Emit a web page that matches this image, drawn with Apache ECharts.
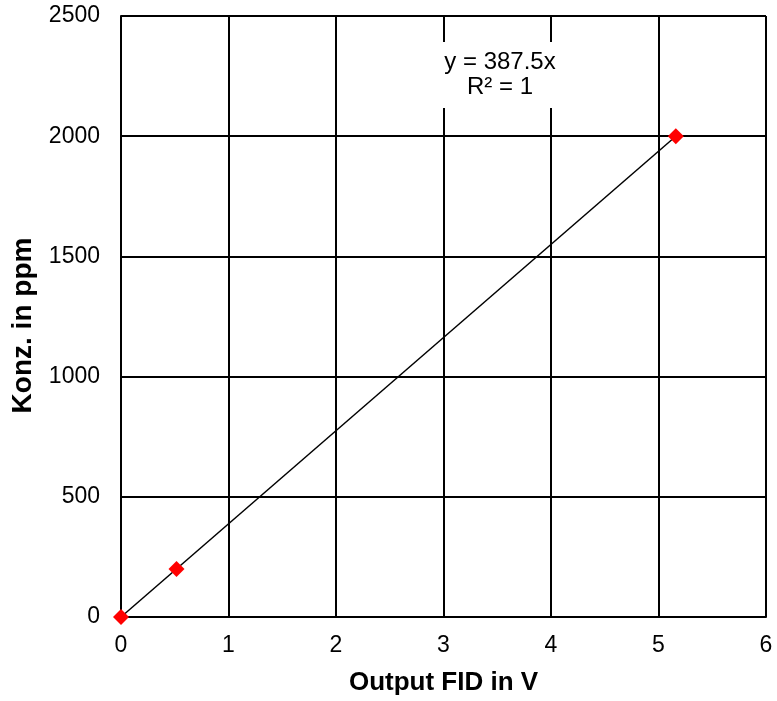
<!DOCTYPE html>
<html><head><meta charset="utf-8">
<script src="https://cdn.jsdelivr.net/npm/echarts@6/dist/echarts.min.js"></script>
<style>html,body{margin:0;padding:0;background:#fff}#c{width:777px;height:701px}</style>
</head><body><div id="c"></div>
<script>
const outputV = [0, 0.516, 5.161];
const konzPpm = [0, 200, 2000];
const slope = 387.5;
const rSquared = 1;
const xTicks = [0, 1, 2, 3, 4, 5, 6];
const yTicks = [0, 500, 1000, 1500, 2000, 2500];

const points = outputV.map((x, i) => [x, konzPpm[i]]);
const xMax = Math.max(...outputV);
const trend = [[0, 0], [xMax, slope * xMax]];

const chart = echarts.init(document.getElementById('c'));
const font = 'Liberation Sans, Arial, sans-serif';
chart.setOption({
  animation: false,
  grid: { left: 121, right: 11, top: 16, bottom: 84 },
  xAxis: {
    type: 'value', min: xTicks[0], max: xTicks[xTicks.length - 1], interval: 1,
    name: 'Output FID in V', nameLocation: 'middle', nameGap: 53,
    nameTextStyle: { fontFamily: font, fontWeight: 'bold', fontSize: 26, color: '#000' },
    axisLine: { show: true, lineStyle: { color: '#000', width: 2 } },
    axisTick: { show: false },
    axisLabel: { fontFamily: font, fontSize: 23, color: '#000', margin: 17, formatter: v => String(v) },
    splitLine: { show: true, lineStyle: { color: '#000', width: 2 } }
  },
  yAxis: {
    type: 'value', min: yTicks[0], max: yTicks[yTicks.length - 1], interval: 500,
    name: 'Konz. in ppm', nameLocation: 'middle', nameGap: 84,
    nameTextStyle: { fontFamily: font, fontWeight: 'bold', fontSize: 28, color: '#000', padding: [0, 18, 0, 0] },
    axisLine: { show: true, lineStyle: { color: '#000', width: 2 } },
    axisTick: { show: false },
    axisLabel: { fontFamily: font, fontSize: 23, color: '#000', margin: 21, formatter: v => String(v) },
    splitLine: { show: true, lineStyle: { color: '#000', width: 2 } }
  },
  graphic: [{
    type: 'rect', x: 440, y: 42, shape: { width: 120, height: 66 },
    style: { fill: '#fff' }, z: 10
  }, {
    type: 'text', x: 500, y: 50, z: 11,
    style: { text: 'y = ' + slope + 'x\nR² = ' + rSquared, fill: '#000', fontFamily: font, fontSize: 24, align: 'center', lineHeight: 25 }
  }],
  series: [{
    type: 'line', data: trend, symbol: 'none', z: 3,
    lineStyle: { color: '#000', width: 1.5 }
  }, {
    type: 'scatter', data: points, symbol: 'diamond', symbolSize: 16, z: 4,
    itemStyle: { color: '#ff0000', opacity: 1 }
  }]
});
</script></body></html>
